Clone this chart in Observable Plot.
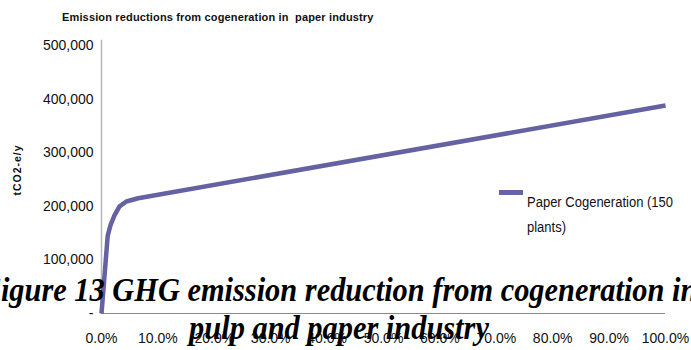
<!DOCTYPE html>
<html>
<head>
<meta charset="utf-8">
<script src="https://cdn.jsdelivr.net/npm/d3@7"></script>
<script src="https://cdn.jsdelivr.net/npm/@observablehq/plot@0.6"></script>
<style>
  html, body { margin: 0; padding: 0; background: #fff; }
  #wrap { position: relative; width: 691px; height: 350px; overflow: hidden; font-family: "Liberation Sans", Arial, sans-serif; }
  #wrap svg { display: block; }
  .abs { position: absolute; white-space: pre; line-height: 1; }
  #title { left: 62px; top: 12px; font-size: 11px; font-weight: bold; color: #111; letter-spacing: 0.15px; }
  #ylab { left: 17px; top: 170px; font-size: 10.5px; font-weight: bold; color: #111; transform: translate(-50%, -50%) rotate(-90deg); letter-spacing: 1px; }
  #swatch { left: 499px; top: 190px; width: 24px; height: 5px; background: #6664a4; }
  .leg { left: 527px; font-size: 13px; color: #111; transform: scaleY(1.12); transform-origin: left top; }
  .cap { font-family: "Liberation Serif", "Times New Roman", serif; font-weight: bold; font-style: italic; font-size: 30.4px; line-height: 30px; color: #000; left: 339px; transform: translateX(-50%) scaleY(1.1); transform-origin: center top; }
</style>
</head>
<body>
<div id="wrap"></div>
<script>
// Data
const shareOfPlants = [0, 1.1, 1.6, 2.3, 3.2, 4.4, 6.5, 100];          // % (x)
const emissionReductions = [0, 145000, 165000, 183000, 200000, 209000, 215000, 388000]; // tCO2-e/y (y)
const xTickValues = [0, 10, 20, 30, 40, 50, 60, 70, 80, 90, 100];
const yTickValues = [0, 100000, 200000, 300000, 400000, 500000];
const seriesName = "Paper Cogeneration (150 plants)";
const chartTitle = "Emission reductions from cogeneration in  paper industry";
const yAxisLabel = "tCO2-e/y";
const captionLine1 = "Figure 13 GHG emission reduction from cogeneration in";
const captionLine2 = "pulp and paper industry";

const data = shareOfPlants.map((p, i) => ({pct: p, value: emissionReductions[i], series: seriesName}));

const chart = Plot.plot({
  width: 691,
  height: 350,
  marginLeft: 101,
  marginRight: 26,
  marginTop: 45,
  marginBottom: 37,
  style: {fontFamily: "'Liberation Sans', Arial, sans-serif", fontSize: "14px", color: "#111", background: "#fff"},
  x: {domain: [0, 100], ticks: xTickValues, tickFormat: d => d.toFixed(1) + "%", tickSize: 0, tickPadding: 20, label: null},
  y: {domain: [0, 500000], ticks: yTickValues, tickFormat: d => d === 0 ? "-" : d3.format(",")(d), tickSize: 0, tickPadding: 8, label: null},
  marks: [
    Plot.ruleX([0], {stroke: "#b8b8b8", strokeWidth: 1.5, y1: 0, y2: 510000}),
    Plot.ruleY([0], {stroke: "#8a8a8a", strokeWidth: 1}),
    Plot.line(data, {x: "pct", y: "value", stroke: "#6462a2", strokeWidth: 4.5, strokeLinejoin: "round", strokeLinecap: "butt"})
  ]
});

const wrap = document.getElementById("wrap");
wrap.appendChild(chart);

function addDiv(id, cls, text, styles) {
  const d = document.createElement("div");
  if (id) d.id = id;
  d.className = "abs " + (cls || "");
  if (text != null) d.textContent = text;
  Object.assign(d.style, styles || {});
  wrap.appendChild(d);
  return d;
}
addDiv("title", "", chartTitle);
addDiv("ylab", "", yAxisLabel);
addDiv("swatch", "", null);
const nameParts = seriesName.split(" ");
addDiv(null, "leg", nameParts.slice(0, 3).join(" "), {top: "195px"});
addDiv(null, "leg", nameParts.slice(3).join(" "), {top: "220px"});
addDiv(null, "cap", captionLine1, {top: "273px"});
addDiv(null, "cap", captionLine2, {top: "311px"});
</script>
</body>
</html>
